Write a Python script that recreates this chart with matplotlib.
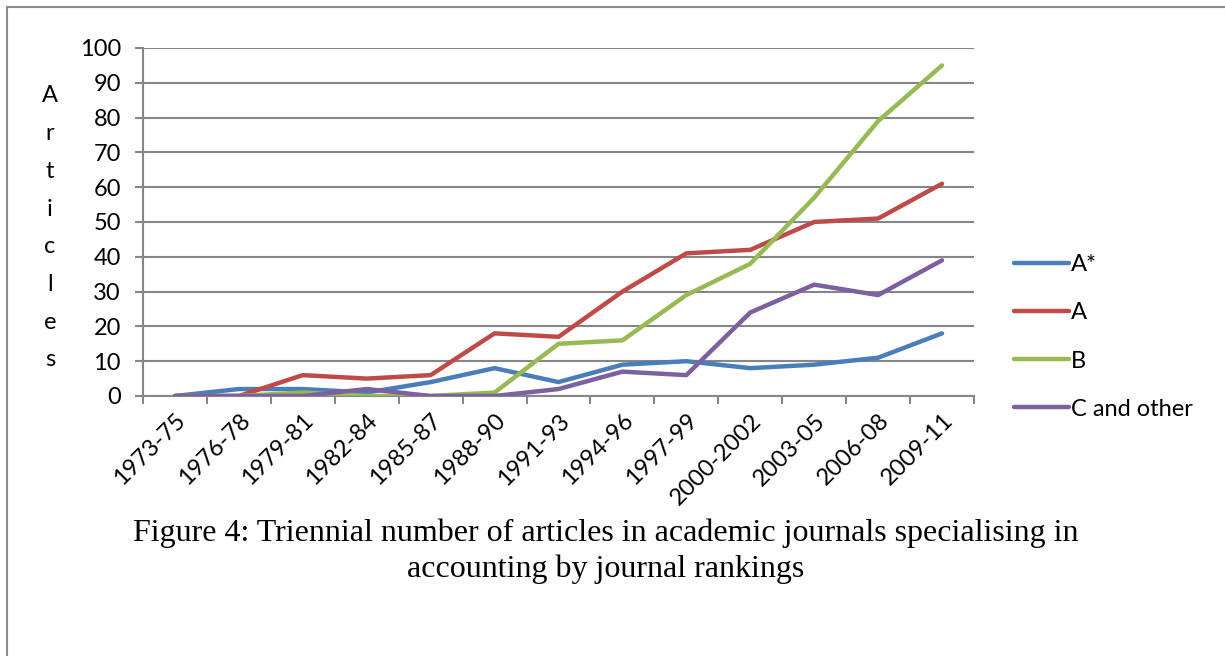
import matplotlib
matplotlib.use("Agg")
import matplotlib.pyplot as plt
from matplotlib.lines import Line2D

periods = ["1973-75", "1976-78", "1979-81", "1982-84", "1985-87", "1988-90", "1991-93",
           "1994-96", "1997-99", "2000-2002", "2003-05", "2006-08", "2009-11"]
a_star = [0, 2, 2, 1, 4, 8, 4, 9, 10, 8, 9, 11, 18]
a_rank = [0, 0, 6, 5, 6, 18, 17, 30, 41, 42, 50, 51, 61]
b_rank = [0, 0, 1, 0, 0, 1, 15, 16, 29, 38, 57, 79, 95]
c_other = [0, 0, 0, 2, 0, 0, 2, 7, 6, 24, 32, 29, 39]

series = [("A*", a_star, "#4a7ebb"),
          ("A", a_rank, "#be4b48"),
          ("B", b_rank, "#98b954"),
          ("C and other", c_other, "#7d60a0")]

font = ["Lato", "DejaVu Sans"]
grid_col = "#868686"

fig = plt.figure(figsize=(12.25, 6.56), dpi=100)
ax = fig.add_axes([143 / 1225, 1 - 396 / 656, (974 - 143) / 1225, (396 - 48) / 656])

x = list(range(len(periods)))
handles = []
for name, vals, col in series:
    ln, = ax.plot(x, vals, color=col, lw=3.2, solid_capstyle="round",
                  solid_joinstyle="round", label=name, zorder=3)
    handles.append(ln)

ax.set_xlim(-0.5, len(periods) - 0.5)
ax.set_ylim(0, 100)
ax.set_yticks(range(0, 101, 10))
ax.set_yticklabels([str(v) for v in range(0, 101, 10)], fontfamily=font, fontsize=17)
ax.yaxis.grid(True, color=grid_col, lw=1.5)
ax.set_axisbelow(True)

# category ticks sit between periods, labels on the period centres
ax.set_xticks([i - 0.5 for i in range(len(periods) + 1)])
ax.set_xticklabels([])
ax.set_xticks(x, minor=True)
ax.set_xticklabels(periods, minor=True, rotation=45, ha="right",
                   rotation_mode="anchor", fontfamily=font, fontsize=17)
ax.tick_params(axis="x", which="minor", length=0, pad=10)
ax.tick_params(axis="x", which="major", length=6, width=1.5, color=grid_col)
ax.tick_params(axis="y", length=6, width=1.5, color=grid_col, pad=10)

for s in ["top", "right"]:
    ax.spines[s].set_visible(False)
for s in ["left", "bottom"]:
    ax.spines[s].set_color(grid_col)
    ax.spines[s].set_linewidth(1.5)

# stacked axis title
for i, ch in enumerate("Articles"):
    fig.text(50 / 1225, 1 - (96 + i * 37.7) / 656, ch, ha="center", va="center",
             fontfamily=font, fontsize=17)

fig.legend(handles=handles, loc="center left", bbox_to_anchor=(993 / 1225, 1 - 337 / 656),
           frameon=False, prop={"family": font, "size": 17}, handlelength=2.3,
           handletextpad=0.1, labelspacing=1.15)

fig.text(606 / 1225, 1 - 533 / 656,
         "Figure 4: Triennial number of articles in academic journals specialising in",
         ha="center", va="center", fontfamily="Liberation Serif", fontsize=23)
fig.text(606 / 1225, 1 - 569 / 656, "accounting by journal rankings",
         ha="center", va="center", fontfamily="Liberation Serif", fontsize=23)

# page frame around the figure
fig.add_artist(Line2D([7 / 1225, 1], [1 - 6.5 / 656] * 2, color="#8c8c8c", lw=1.5))
fig.add_artist(Line2D([7 / 1225] * 2, [0, 1 - 6.5 / 656], color="#8c8c8c", lw=1.5))

fig.savefig("out.png", dpi=100)
